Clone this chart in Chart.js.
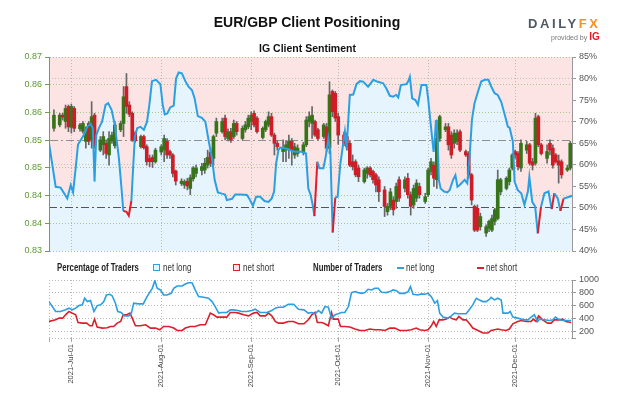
<!DOCTYPE html>
<html>
<head>
<meta charset="utf-8">
<script src="https://cdn.jsdelivr.net/npm/chart.js@4.4.1/dist/chart.umd.min.js"></script>
<style>
  html,body{margin:0;padding:0;background:#fff;}
  #wrap{position:relative;width:624px;height:416px;overflow:hidden;background:#fff;font-family:'Liberation Sans',Arial,sans-serif;}
  canvas{position:absolute;left:0;}
  #cTop{top:0;}
  #cBot{top:262px;}
  .abs{position:absolute;white-space:nowrap;}
  #title{left:0;width:614px;top:14px;text-align:center;font-weight:bold;font-size:14px;color:#111;}
  #sub{left:0;width:615px;top:42px;text-align:center;font-weight:bold;font-size:10.5px;color:#111;}
  #logo{left:528px;top:16px;font-weight:bold;font-size:13px;letter-spacing:2.6px;color:#4e5866;}
  #logo span{color:#f39325;}
  #prov{left:551px;top:31px;font-size:7px;color:#777;}
  #prov b{color:#e31b23;font-size:10px;}
  .leg{top:262px;line-height:12px;font-family:'Liberation Sans',Arial,sans-serif;font-size:10px;color:#333;transform:scaleX(0.8);transform-origin:0 50%;}
  .legb{font-weight:bold;font-size:10px;color:#222;transform:scaleX(0.78);}
  .box{position:absolute;top:264px;width:5px;height:5px;}
  .ln{position:absolute;top:267px;width:7px;height:2px;}
</style>
</head>
<body>
<div id="wrap">
  <canvas id="cTop" width="624" height="262"></canvas>
  <canvas id="cBot" width="624" height="154"></canvas>
  <div class="abs" id="title">EUR/GBP Client Positioning</div>
  <div class="abs" id="sub">IG Client Sentiment</div>
  <div class="abs" id="logo">DAILY<span>FX</span></div>
  <div class="abs" id="prov">provided by <b>IG</b></div>

  <div class="abs leg legb" style="left:57px;">Percentage of Traders</div>
  <div class="box" style="left:153px;border:1.5px solid #2ea1e0;background:#e6f5fd;"></div>
  <div class="abs leg" style="left:163px;">net long</div>
  <div class="box" style="left:233px;border:1.5px solid #dc1f2b;background:#fde4e4;"></div>
  <div class="abs leg" style="left:243px;">net short</div>

  <div class="abs leg legb" style="left:313px;">Number of Traders</div>
  <div class="ln" style="left:397px;background:#2ea1e0;"></div>
  <div class="abs leg" style="left:406px;">net long</div>
  <div class="ln" style="left:477px;background:#dc1f2b;"></div>
  <div class="abs leg" style="left:486px;">net short</div>
</div>
<script>
// ---- x axis: days since 2021-07-01 ----
const monthDays   = [0, 31, 62, 92, 123, 153];
const monthLabels = ['2021-Jul-01','2021-Aug-01','2021-Sep-01','2021-Oct-01','2021-Nov-01','2021-Dec-01'];
const X_MIN = -7.7, X_MAX = 172.6;

// ---- price axis ----
const priceTicks = [0.83, 0.835714, 0.841429, 0.847143, 0.852857, 0.858571, 0.864286, 0.87];
const priceTickLabels = ['0.83','0.84','0.84','0.85','0.85','0.86','0.86','0.87'];
const pctTicks = [40,45,50,55,60,65,70,75,80,85];
const countTicks = [100,200,400,600,800,1000];

// ---- EUR/GBP daily candles ----
const candleDay = [-6,-4,-3,-2,-1,0,1,3,4,5,6,7,8,10,11,12,13,14,15,17,18,19,20,21,22,24,25,26,27,28,29,
 31,32,33,34,35,36,38,39,40,41,42,43,45,46,47,48,49,50,52,53,54,55,56,57,59,60,61,62,63,64,66,67,68,69,70,71,
 73,74,75,76,77,78,80,81,82,83,84,85,87,88,89,90,91,92,94,95,96,97,98,99,101,102,103,104,105,106,
 108,109,110,111,112,113,115,116,117,118,119,120,122,123,124,125,126,127,129,130,131,132,133,134,
 136,137,138,139,140,141,143,144,145,146,147,148,150,151,152,153,154,155,157,158,159,160,161,162,
 164,165,166,167,168,169,171,172];
const opens = [.8553,.8560,.8580,.8567,.8598,.8555,.8594,.8552,.8547,.8526,.8563,.8529,.8580,.8508,.8519,.8522,.8498,.8527,.8517,.8550,.8563,.8639,.8601,.8584,.8543,.8515,.8536,.8515,.8491,.8493,.8484,
 .8504,.8508,.8526,.8505,.8498,.8465,.8439,.8436,.8444,.8429,.8449,.8460,.8466,.8467,.8477,.8504,.8491,.8543,.8546,.8574,.8532,.8546,.8536,.8563,.8532,.8550,.8556,.8567,.8584,.8574,.8534,.8550,.8560,.8577,.8539,.8522,
 .8505,.8508,.8512,.8526,.8498,.8501,.8505,.8519,.8567,.8563,.8567,.8550,.8536,.8556,.8512,.8629,.8625,.8577,.8539,.8536,.8522,.8484,.8484,.8471,.8443,.8460,.8471,.8464,.8457,.8447,
 .8426,.8381,.8392,.8405,.8402,.8447,.8429,.8450,.8416,.8395,.8409,.8433,.8402,.8416,.8464,.8477,.8447,.8532,.8550,.8556,.8539,.8522,.8526,.8546,
 .8505,.8501,.8457,.8392,.8388,.8350,.8337,.8347,.8343,.8361,.8367,.8422,.8429,.8443,.8471,.8505,.8501,.8471,.8508,.8519,.8484,.8481,.8577,.8519,
 .8491,.8522,.8512,.8498,.8486,.8484,.8467,.8471];
const highs = [.8591,.8584,.8584,.8601,.8601,.8603,.8598,.8563,.8567,.8556,.8567,.8608,.8584,.8536,.8546,.8529,.8546,.8545,.8567,.8568,.8639,.8666,.8608,.8587,.8546,.8539,.8539,.8519,.8498,.8498,.8512,
 .8519,.8539,.8532,.8508,.8501,.8467,.8449,.8447,.8450,.8457,.8474,.8477,.8481,.8491,.8508,.8512,.8539,.8574,.8574,.8580,.8552,.8553,.8570,.8567,.8558,.8567,.8580,.8587,.8589,.8577,.8556,.8570,.8587,.8584,.8543,.8527,
 .8529,.8526,.8539,.8532,.8522,.8519,.8524,.8577,.8587,.8598,.8570,.8553,.8563,.8563,.8649,.8632,.8629,.8584,.8545,.8543,.8526,.8498,.8488,.8477,.8471,.8474,.8474,.8467,.8460,.8453,
 .8433,.8398,.8429,.8412,.8440,.8453,.8453,.8460,.8422,.8436,.8447,.8440,.8419,.8471,.8491,.8484,.8570,.8580,.8563,.8563,.8546,.8550,.8550,.8550,
 .8508,.8505,.8460,.8395,.8395,.8378,.8354,.8364,.8374,.8388,.8467,.8450,.8453,.8471,.8501,.8508,.8505,.8529,.8526,.8522,.8491,.8584,.8580,.8522,
 .8519,.8529,.8519,.8501,.8498,.8488,.8477,.8526];
const lows = [.8547,.8556,.8570,.8553,.8546,.8543,.8546,.8547,.8543,.8512,.8519,.8512,.8512,.8505,.8498,.8491,.8477,.8522,.8512,.8546,.8536,.8584,.8577,.8526,.8524,.8512,.8510,.8477,.8474,.8472,.8481,
 .8498,.8484,.8491,.8491,.8453,.8436,.8435,.8429,.8426,.8416,.8444,.8453,.8457,.8460,.8471,.8474,.8477,.8536,.8543,.8529,.8527,.8524,.8532,.8539,.8529,.8545,.8552,.8550,.8556,.8543,.8531,.8546,.8556,.8536,.8498,.8508,
 .8484,.8484,.8491,.8477,.8491,.8495,.8498,.8515,.8556,.8532,.8536,.8529,.8532,.8505,.8501,.8577,.8567,.8520,.8517,.8508,.8474,.8467,.8453,.8443,.8440,.8450,.8453,.8440,.8422,.8402,
 .8371,.8374,.8385,.8374,.8388,.8402,.8422,.8409,.8374,.8388,.8402,.8409,.8398,.8412,.8457,.8433,.8429,.8526,.8546,.8508,.8491,.8512,.8519,.8505,
 .8495,.8450,.8395,.8340,.8340,.8343,.8330,.8340,.8340,.8354,.8364,.8416,.8426,.8436,.8467,.8491,.8467,.8464,.8501,.8477,.8467,.8477,.8515,.8498,
 .8481,.8498,.8471,.8481,.8440,.8450,.8464,.8467];
const closes = [.8580,.8580,.8576,.8594,.8556,.8598,.8553,.8560,.8563,.8546,.8526,.8577,.8519,.8529,.8536,.8501,.8532,.8539,.8560,.8563,.8618,.8598,.8582,.8529,.8527,.8536,.8513,.8484,.8484,.8484,.8508,
 .8515,.8532,.8498,.8498,.8460,.8444,.8444,.8443,.8434,.8451,.8471,.8471,.8474,.8481,.8493,.8481,.8536,.8567,.8567,.8536,.8546,.8529,.8563,.8546,.8553,.8560,.8574,.8580,.8560,.8546,.8553,.8567,.8577,.8539,.8522,.8515,
 .8513,.8519,.8527,.8508,.8515,.8512,.8519,.8570,.8577,.8580,.8539,.8532,.8560,.8512,.8622,.8587,.8574,.8539,.8522,.8515,.8477,.8474,.8457,.8453,.8467,.8471,.8457,.8447,.8436,.8422,
 .8392,.8392,.8422,.8385,.8433,.8409,.8447,.8416,.8392,.8429,.8440,.8416,.8412,.8467,.8484,.8450,.8532,.8577,.8556,.8519,.8498,.8543,.8543,.8508,
 .8498,.8457,.8405,.8343,.8343,.8371,.8350,.8361,.8367,.8385,.8447,.8447,.8450,.8467,.8498,.8498,.8474,.8522,.8519,.8481,.8477,.8574,.8519,.8501,
 .8505,.8508,.8477,.8484,.8477,.8457,.8471,.8522];

// ---- % of traders net long ----
const sentDay = [-7.7,-5.4,-3.7,-2.5,-1.4,-0.2,0.6,1.5,2.3,3.2,4.3,5.5,6.6,7.4,8.0,8.6,9.5,10.6,11.8,12.7,13.9,15.0,16.4,17.3,17.9,19.0,19.8,20.7,21.3,21.9,22.7,23.8,25.0,26.1,26.9,27.8,29.2,
 30.7,31.5,32.2,33.1,34.1,35.3,36.1,37.0,38.1,39.3,40.4,41.6,42.5,43.6,45.0,46.2,47.3,48.5,49.4,50.5,51.9,53.0,53.6,55.4,56.5,58.2,60.5,61.3,62.6,63.7,65.1,66.6,68.0,69.1,69.9,
 70.6,71.4,72.0,74.3,77.1,79.4,80.9,81.7,82.5,83.2,83.8,84.8,85.5,86.9,87.8,88.6,89.3,90.1,91.0,91.8,92.7,94.3,94.9,96.0,97.2,98.3,99.5,100.6,102.3,104.1,105.4,107.5,108.6,109.8,110.9,
 112.0,112.7,113.6,115.5,116.1,116.7,117.5,118.6,119.5,120.7,122.4,123.0,123.8,124.5,124.9,125.3,125.7,126.2,126.7,127.3,128.5,129.6,130.4,131.6,132.4,133.1,133.9,135.6,136.5,
 137.3,138.1,139.0,140.2,141.3,142.5,143.8,144.8,145.9,147.0,148.2,149.3,150.5,151.1,152.2,152.8,153.9,155.1,156.2,157.4,157.9,158.9,159.9,160.8,161.9,163.1,164.5,165.6,166.5,167.7,168.6,169.7,170.9,172.6];
const sentPct = [65.0,54.9,54.7,53.4,52.2,55.3,53.6,59.2,64.7,65.7,66.9,68.8,69.5,68.5,56.1,66.9,68.5,70.0,73.9,74.3,72.7,69.2,61.5,54.5,49.3,49.1,48.2,51.6,59.2,66.5,68.5,68.8,68.1,70.0,73.9,79.4,79.7,
 78.7,73.9,71.7,71.9,73.3,73.7,80.0,81.4,81.2,79.4,78.1,77.3,75.4,71.3,70.9,70.0,65.7,61.5,56.5,53.6,53.3,53.1,51.8,52.1,53.1,53.1,53.0,52.2,50.5,52.6,52.6,51.6,51.4,52.2,53.8,
 60.3,63.4,64.0,63.7,63.0,63.0,62.6,54.5,53.0,50.7,48.1,60.7,59.2,59.2,62.3,66.1,63.0,44.3,52.4,52.6,60.0,67.7,63.8,76.2,76.3,78.7,79.4,79.3,78.1,79.7,79.3,78.9,77.7,76.0,75.8,
 76.2,75.6,78.5,78.7,79.3,80.4,75.4,75.0,73.9,78.5,78.5,75.4,70.0,65.4,63.0,66.1,70.4,67.7,56.5,54.5,53.8,53.6,54.1,56.5,57.6,54.9,55.3,56.5,55.7,
 61.9,70.4,74.3,77.0,79.3,79.7,79.7,78.1,76.6,76.2,74.6,71.9,68.8,68.6,65.4,56.1,54.1,53.4,50.7,53.8,57.2,51.4,50.3,44.1,50.2,53.4,53.8,49.7,53.4,52.2,49.3,52.2,52.4,52.8];

// ---- number of traders ----
const longDay = [-7.7,-5.4,-3.7,-2.0,-0.8,0.3,1.5,2.6,3.8,4.6,5.5,6.6,7.8,8.9,10.1,11.2,12.1,13.3,14.1,15.2,16.0,17.2,18.3,19.8,20.7,21.5,23.2,24.8,26.1,27.9,28.8,29.6,30.7,31.8,33.0,34.4,35.3,36.5,38.2,39.3,40.4,41.6,42.7,43.9,45.6,47.3,48.5,49.6,50.8,51.9,53.6,54.8,55.9,57.3,58.8,60.5,62.2,63.4,65.1,67.4,69.1,70.3,71.4,73.1,74.8,76.6,78.3,80.2,81.7,82.9,84.0,85.2,86.3,87.4,88.6,89.7,90.9,92.0,93.2,94.3,95.5,96.6,97.8,98.9,100.1,101.2,102.3,103.5,104.6,105.8,106.9,108.6,109.8,110.9,112.1,113.2,114.9,116.1,116.9,117.8,119.5,120.7,121.8,123.0,124.1,125.3,126.2,127.0,128.1,129.8,131.0,132.1,133.3,135.0,136.1,137.3,138.4,139.6,140.7,141.9,143.0,144.2,144.7,145.9,147.0,148.2,148.8,150.5,151.3,152.2,153.9,155.1,156.2,157.4,158.5,159.6,160.8,161.4,163.1,164.8,166.0,166.9,168.2,169.4,170.5,172.3];
const longCount = [665,511,511,537,563,537,563,603,614,717,665,681,511,603,614,665,768,779,753,640,511,496,444,444,486,640,629,629,742,871,990,871,846,768,768,794,871,907,907,938,958,958,846,742,732,717,665,588,486,496,496,537,537,526,511,511,526,547,496,496,526,563,578,578,624,624,547,537,486,496,476,526,486,588,578,408,460,476,496,496,588,804,820,804,793,804,856,846,871,871,809,804,820,846,835,793,793,820,897,779,768,784,779,793,742,640,681,486,424,408,444,486,476,476,476,547,614,717,691,665,665,701,732,691,717,691,486,486,511,424,408,393,382,382,424,460,357,393,382,372,382,424,382,372,372,372];
const shortDay = [-7.7,-5.4,-4.2,-3.0,-2.0,-0.8,0.3,1.5,2.3,3.8,5.3,6.4,7.2,8.0,8.9,10.7,12.4,13.5,14.6,15.8,17.0,17.9,19.1,20.2,21.0,22.1,23.8,25.6,27.3,29.0,30.5,31.8,33.6,35.3,36.5,38.2,39.3,41.0,42.7,44.4,46.2,47.9,49.0,50.2,51.9,53.6,54.8,56.5,57.7,59.4,61.1,62.8,64.0,65.1,66.9,68.0,69.1,70.3,71.4,73.1,74.8,76.6,78.3,80.2,81.7,82.9,84.0,84.8,86.3,87.4,88.6,89.7,90.3,92.0,92.8,94.3,96.0,97.8,99.5,101.2,102.9,104.6,106.4,108.1,109.8,111.5,113.2,115.5,117.2,118.9,120.1,121.8,123.0,124.1,124.9,125.8,126.8,128.1,129.3,130.4,131.6,132.7,133.6,135.0,136.1,137.3,138.4,140.2,141.9,143.6,144.7,145.9,147.0,148.2,149.9,151.0,152.2,153.9,155.1,156.8,158.5,159.3,160.2,161.1,162.5,164.2,165.4,166.5,168.2,169.4,170.5,172.3];
const shortCount = [357,382,408,408,460,511,486,460,341,331,331,290,290,393,270,254,259,279,279,331,357,460,460,486,408,290,290,305,254,254,228,279,279,254,217,217,254,279,279,305,305,486,460,424,424,424,496,496,486,460,444,486,496,444,444,486,444,357,331,331,357,357,321,321,382,460,496,341,341,321,290,496,393,393,279,279,270,239,217,217,239,228,228,217,254,254,217,217,228,254,228,217,228,290,357,279,382,382,393,424,393,382,434,382,382,321,254,217,177,177,217,228,239,228,217,239,321,357,372,357,357,393,357,444,382,331,331,382,382,393,357,341];

// ---- styling ----
const BLUE = '#2a9fe2', RED = '#dc1f2b';
const CGREEN = '#367419', CRED = '#cf1c27', WICK = '#666666';
const PINK = '#fde4e4', LBLUE = '#e6f5fd';
const FONT = "'Liberation Sans', Arial, sans-serif";

const bodies = candleDay.map((d, i) => ({x: d, y: [opens[i], closes[i]]}));
const wicks  = candleDay.map((d, i) => ({x: d, y: [lows[i], highs[i]]}));
const sentPts  = sentDay.map((d, i) => ({x: d, y: sentPct[i]}));
const longPts  = longDay.map((d, i) => ({x: d, y: longCount[i]}));
const shortPts = shortDay.map((d, i) => ({x: d, y: shortCount[i]}));

const isRefPrice = c => c && c.tick && Math.abs(c.tick.value - priceTicks[4]) < 1e-5;
const pctVal = c => (c && c.tick) ? c.tick.value : null;

new Chart(document.getElementById('cTop'), {
  type: 'bar',
  data: { datasets: [
    { type:'line', data: sentPts, yAxisID:'yPct', borderWidth:0, borderColor:'transparent', pointRadius:0, fill:'end', backgroundColor:PINK, order:10 },
    { type:'line', data: sentPts, yAxisID:'yPct', borderWidth:0, borderColor:'transparent', pointRadius:0, fill:'start', backgroundColor:LBLUE, order:9 },
    { type:'bar', data: wicks, yAxisID:'yPrice', backgroundColor: WICK, barThickness:1, grouped:false, order:5 },
    { type:'bar', data: bodies, yAxisID:'yPrice', backgroundColor: c => closes[c.dataIndex] >= opens[c.dataIndex] ? CGREEN : CRED, barThickness:3, grouped:false, order:4 },
    { type:'line', data: sentPts, yAxisID:'yPct', borderColor: BLUE, borderWidth:2, pointRadius:0, fill:false, tension:0, order:1,
      segment: { borderColor: c => c.p0.parsed.y < 50 ? RED : BLUE } }
  ]},
  options: {
    responsive:false, animation:false, events:[],
    layout: { padding: { left:0, right:0, top:57, bottom:11 } },
    plugins: { legend:{display:false}, tooltip:{enabled:false}, filler:{ drawTime:'beforeDraw' } },
    scales: {
      x: { type:'linear', min:X_MIN, max:X_MAX, offset:false,
           afterBuildTicks: s => { s.ticks = monthDays.map(v => ({value:v})); },
           ticks:{ display:false }, grid:{ offset:false, color:'#b9b9b9', drawTicks:false },
           border:{ display:false, dash:[1,2] },
           afterFit: s => { s.height = 0; } },
      yPrice: { type:'linear', position:'left', min:0.83, max:0.87,
           afterBuildTicks: s => { s.ticks = priceTicks.map(v => ({value:v})); },
           ticks:{ autoSkip:false, color:'#5a9a2e', font:{ family:FONT, size:9 }, padding:3, callback:(v, i) => priceTickLabels[i] },
           grid:{ color: c => isRefPrice(c) ? '#8f8f8f' : '#a8c98a', tickColor:'#6aa34a', tickLength:4, tickBorderDash:[] },
           border:{ display:true, color:'#6aa34a', width:1, dash: c => isRefPrice(c) ? [8,3,2,3] : [1,2] },
           afterFit: s => { s.width = 49; } },
      yPct: { type:'linear', position:'right', min:40, max:85,
           afterBuildTicks: s => { s.ticks = pctTicks.map(v => ({value:v})); },
           ticks:{ autoSkip:false, color:'#555', font:{ family:FONT, size:9 }, padding:3, callback: v => v + '%' },
           grid:{ color: c => { const v = pctVal(c); return v === 50 ? '#555' : (v === 80 || v === 70 || v === 60) ? '#c2c2c2' : 'transparent'; },
                  tickColor:'#999', tickLength:4, tickBorderDash:[] },
           border:{ display:true, color:'#999', width:1, dash: c => pctVal(c) === 50 ? [8,3,2,3] : [1,2] },
           afterFit: s => { s.width = 52; } }
    }
  }
});

new Chart(document.getElementById('cBot'), {
  type: 'line',
  data: { datasets: [
    { data: longPts, borderColor: BLUE, borderWidth:1.6, pointRadius:0, fill:false, tension:0 },
    { data: shortPts, borderColor: RED, borderWidth:1.6, pointRadius:0, fill:false, tension:0 }
  ]},
  options: {
    responsive:false, animation:false, events:[],
    layout: { padding: { left:49, right:0, top:18, bottom:0 } },
    plugins: { legend:{display:false}, tooltip:{enabled:false} },
    scales: {
      x: { type:'linear', min:X_MIN, max:X_MAX, offset:false,
           afterBuildTicks: s => { s.ticks = [X_MIN].concat(monthDays).map(v => ({value:v})); },
           ticks:{ autoSkip:false, minRotation:90, maxRotation:90, color:'#444', font:{ family:FONT, size:7.5 }, padding:2,
                   callback: v => { const i = monthDays.indexOf(v); return i < 0 ? '' : monthLabels[i]; } },
           grid:{ color:'#b9b9b9', tickColor:'#aaa', tickLength:4, tickBorderDash:[] },
           border:{ display:false, dash:[1,2] },
           afterFit: s => { s.height = 78; } },
      y: { type:'linear', position:'right', min:100, max:1000,
           afterBuildTicks: s => { s.ticks = countTicks.map(v => ({value:v})); },
           ticks:{ autoSkip:false, color:'#555', font:{ family:FONT, size:9 }, padding:3, callback: v => v === 100 ? '' : String(v) },
           grid:{ color:'#b9b9b9', tickColor:'#999', tickLength:4, tickBorderDash:[] },
           border:{ display:true, color:'#999', width:1, dash:[1,2] },
           afterFit: s => { s.width = 52; } }
    }
  }
});
</script>
</body>
</html>
